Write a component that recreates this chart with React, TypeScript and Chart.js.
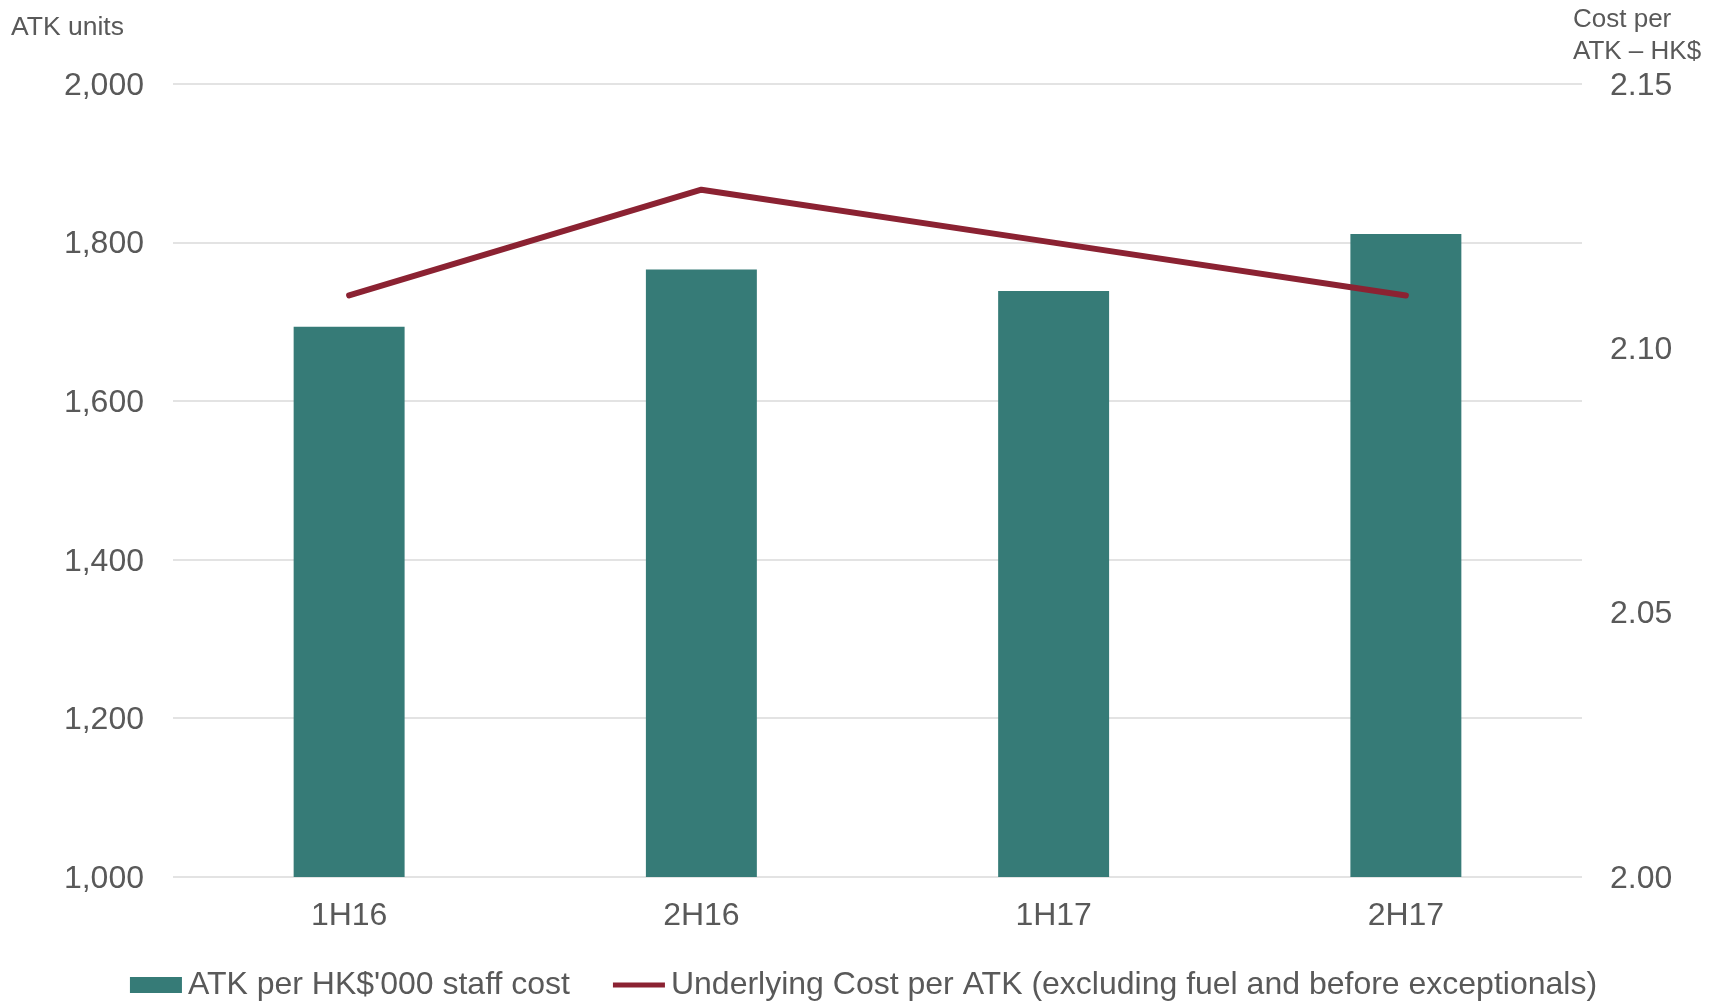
import React, { useEffect, useRef } from 'react';
import { Chart, registerables } from 'chart.js';

Chart.register(...registerables);

const categories = ['1H16', '2H16', '1H17', '2H17'];
const atkPerStaffCost = [1694, 1766, 1739, 1811];
const costPerAtk = [2.11, 2.13, 2.12, 2.11];
const seriesLabels = ["ATK per HK$'000 staff cost", 'Underlying Cost per ATK (excluding fuel and before exceptionals)'];
const leftAxisRange = [1000, 2000, 200];
const rightAxisRange = [2.0, 2.15, 0.05];
const leftAxisTitle = ['ATK units'];
const rightAxisTitle = ['Cost per', 'ATK \u2013 HK$'];

const FONT = '"Liberation Sans", Arial, sans-serif';
const TEXT = '#595959';
const BAR = '#367B77';
const LINE = '#8B2232';
const GRID = '#e3e3e3';

const annotations = {
  id: 'annotations',
  afterDraw(chart: any) {
    const ctx = chart.ctx;
    const area = chart.chartArea;
    ctx.save();
    ctx.fillStyle = TEXT;
    ctx.textBaseline = 'alphabetic';
    ctx.font = `26.5px ${FONT}`;
    ctx.textAlign = 'left';
    ctx.fillText(leftAxisTitle[0], 11, 35);
    ctx.font = `26px ${FONT}`;
    rightAxisTitle.forEach((t, i) => ctx.fillText(t, area.right - 9, 27 + i * 31.5));

    // legend
    ctx.font = `32px ${FONT}`;
    const boxW = 52;
    const gapText = 6;
    const gapItems = 43;
    const w1 = ctx.measureText(seriesLabels[0]).width;
    const w2 = ctx.measureText(seriesLabels[1]).width;
    const total = boxW + gapText + w1 + gapItems + boxW + gapText + w2;
    let x = (chart.width - total) / 2;
    const cy = 985;
    ctx.fillStyle = BAR;
    ctx.fillRect(x, cy - 8, boxW, 16);
    x += boxW + gapText;
    ctx.fillStyle = TEXT;
    ctx.textBaseline = 'middle';
    ctx.fillText(seriesLabels[0], x, cy);
    x += w1 + gapItems;
    ctx.strokeStyle = LINE;
    ctx.lineWidth = 5;
    ctx.beginPath();
    ctx.moveTo(x, cy);
    ctx.lineTo(x + boxW, cy);
    ctx.stroke();
    x += boxW + gapText;
    ctx.fillText(seriesLabels[1], x, cy);
    ctx.restore();
  },
};

export default function App() {
  const ref = useRef<HTMLCanvasElement | null>(null);
  useEffect(() => {
    if (!ref.current) return;
    const chart = new Chart(ref.current, {
      type: 'bar',
      data: {
        labels: categories,
        datasets: [
          {
            type: 'line',
            label: seriesLabels[1],
            data: costPerAtk,
            yAxisID: 'y1',
            borderColor: LINE,
            backgroundColor: LINE,
            borderWidth: 6,
            pointRadius: 0,
            tension: 0,
            borderCapStyle: 'round',
            borderJoinStyle: 'round',
            order: 0,
          } as any,
          {
            type: 'bar',
            label: seriesLabels[0],
            data: atkPerStaffCost,
            yAxisID: 'y',
            backgroundColor: BAR,
            borderWidth: 0,
            categoryPercentage: 1,
            barPercentage: 0.315,
            order: 1,
          } as any,
        ],
      },
      options: {
        animation: false,
        responsive: true,
        maintainAspectRatio: false,
        layout: { padding: { top: 84, bottom: 65, left: 0, right: 0 } },
        plugins: { legend: { display: false }, tooltip: { enabled: false } },
        scales: {
          x: {
            grid: { display: false, drawTicks: false },
            border: { display: false },
            ticks: { padding: 20, color: TEXT, font: { family: FONT, size: 32 } },
            afterFit: (s: any) => { s.height = 60; },
          },
          y: {
            position: 'left',
            min: leftAxisRange[0],
            max: leftAxisRange[1],
            grid: { color: GRID, lineWidth: 2, drawTicks: false },
            border: { display: false },
            ticks: {
              stepSize: leftAxisRange[2],
              padding: 29,
              labelOffset: 2,
              color: TEXT,
              font: { family: FONT, size: 32 },
              callback: (v: any) => Number(v).toLocaleString('en-US'),
            },
            afterFit: (s: any) => { s.width = 173; },
          },
          y1: {
            position: 'right',
            min: rightAxisRange[0],
            max: rightAxisRange[1],
            grid: { display: false, drawTicks: false },
            border: { display: false },
            ticks: {
              stepSize: rightAxisRange[2],
              padding: 28,
              labelOffset: 2,
              color: TEXT,
              font: { family: FONT, size: 32 },
              callback: (v: any) => Number(v).toFixed(2),
            },
            afterFit: (s: any) => { s.width = 145; },
          },
        },
      },
      plugins: [annotations],
    } as any);
    return () => chart.destroy();
  }, []);
  return (
    <div style={{ position: 'absolute', left: 0, top: 0, width: 1727, height: 1002, background: '#fff' }}>
      <canvas ref={ref} />
    </div>
  );
}
